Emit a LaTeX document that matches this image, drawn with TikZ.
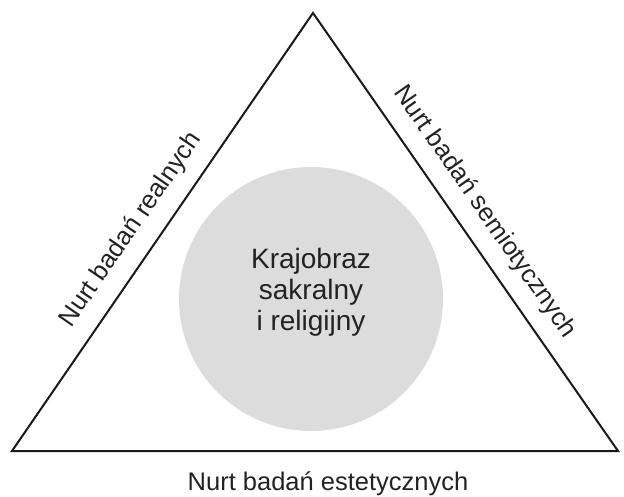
\documentclass[tikz,border=0pt]{standalone}
\usepackage{fontspec}
\setmainfont{Liberation Sans}
\usetikzlibrary{positioning}

\definecolor{circlegray}{HTML}{DCDCDC}
\definecolor{textgray}{HTML}{222222}

\begin{document}
\begin{tikzpicture}[
        x = 1pt, y = 1pt,
        edge/.style = {draw = black!90, line width = 2pt, line join = miter},
        nurt/.style = {text = textgray, font = \fontsize{25.5}{29}\selectfont, inner sep = 2pt},
        core/.style = {circle, fill = circlegray, minimum size = 264pt, inner sep = 0pt},
        core text/.style = {text = textgray, align = center, font = \fontsize{28}{31}\selectfont}
    ]

        \useasboundingbox (0,0) rectangle (624,496);

        \coordinate (apex) at (313,483);
        \coordinate (bl) at (12,45);
        \coordinate (br) at (618,45);

        \node[core] (krajobraz) at (311,197) {};
        \node[core text] (krajobraz_txt) at (311,204) {Krajobraz\\sakralny\\i religijny};

        \draw[edge] (bl) -- (apex) -- (br) -- cycle;

        \path (bl) -- (apex)
            node[nurt, sloped, pos = 0.47, above = 13pt] (realne) {Nurt badań realnych};
        \path (apex) -- (br)
            node[nurt, sloped, pos = 0.49, above = 13pt] (semiotyczne) {Nurt badań semiotycznych};
        \node[nurt, xshift = 17pt] (estetyczne) [below = 19pt of krajobraz.south |- bl] {Nurt badań estetycznych};

\end{tikzpicture}
\end{document}
